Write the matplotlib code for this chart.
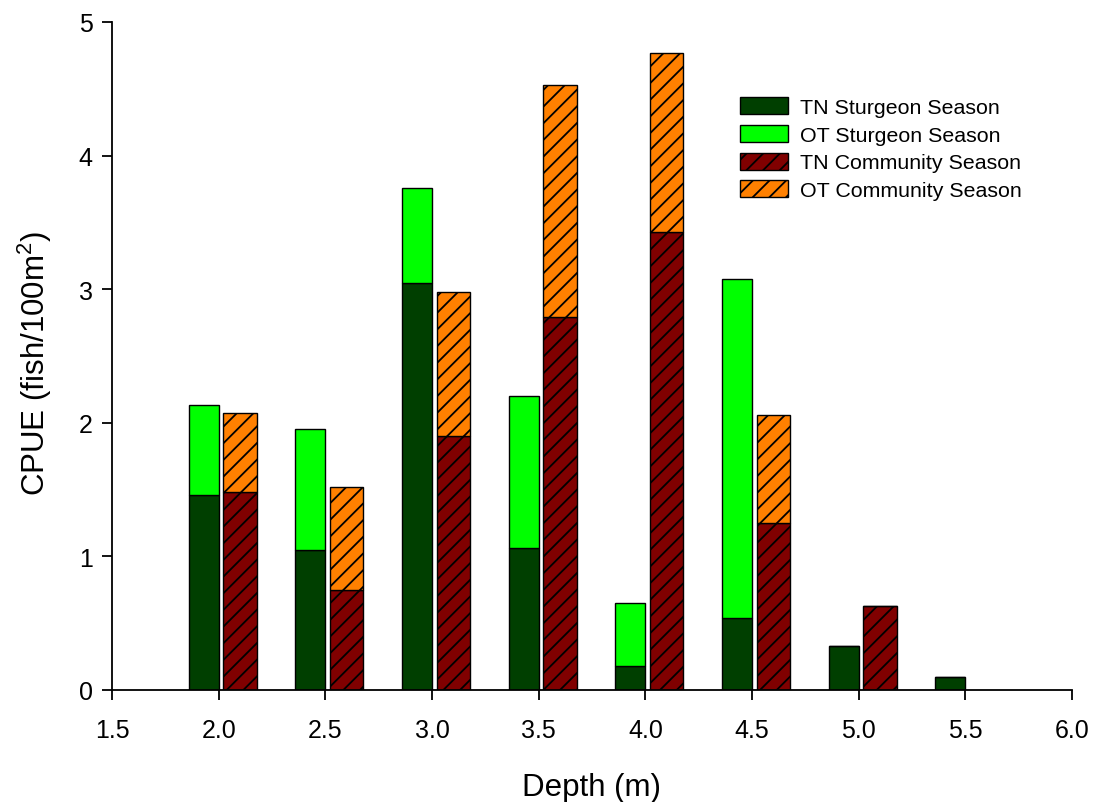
import matplotlib
matplotlib.use("Agg")
import matplotlib.pyplot as plt
import numpy as np

plt.rcParams['font.family'] = ['Liberation Sans', 'DejaVu Sans']
plt.rcParams['mathtext.fontset'] = 'custom'
plt.rcParams['mathtext.rm'] = 'Liberation Sans'
plt.rcParams['hatch.linewidth'] = 1.3

# sturgeon season (stacked: TN bottom, OT on top)
depth_sturgeon = [2.0, 2.5, 3.0, 3.5, 4.0, 4.5, 5.0, 5.5]
tn_sturgeon = [1.46, 1.05, 3.05, 1.06, 0.18, 0.54, 0.33, 0.10]
ot_sturgeon = [0.67, 0.90, 0.71, 1.14, 0.47, 2.54, 0.0, 0.0]

# community season
depth_community = [2.0, 2.5, 3.0, 3.5, 4.0, 4.5, 5.0]
tn_community = [1.48, 0.75, 1.90, 2.79, 3.43, 1.25, 0.63]
ot_community = [0.59, 0.77, 1.08, 1.74, 1.34, 0.81, 0.0]

x_ticks = [1.5, 2.0, 2.5, 3.0, 3.5, 4.0, 4.5, 5.0, 5.5, 6.0]

fig = plt.figure(figsize=(10.95, 8.03), dpi=100)
ax = fig.add_axes([112 / 1095, 1 - 691 / 803, 960 / 1095, 668 / 803])

xs = np.array(depth_sturgeon)
xc = np.array(depth_community)
ax.bar(xs - 0.07, tn_sturgeon, width=0.14, color='#003f00', edgecolor='black',
       linewidth=1, label='TN Sturgeon Season')
ax.bar(xs - 0.07, ot_sturgeon, width=0.14, bottom=tn_sturgeon, color='#00ff00',
       edgecolor='black', linewidth=1, label='OT Sturgeon Season')
ax.bar(xc + 0.10, tn_community, width=0.155, color='#800000', edgecolor='black',
       linewidth=1, hatch='//', label='TN Community Season')
ax.bar(xc + 0.10, ot_community, width=0.155, bottom=tn_community, color='#ff8000',
       edgecolor='black', linewidth=1, hatch='//', label='OT Community Season')

ax.set_xlim(1.5, 6.0)
ax.set_ylim(0, 5)
ax.set_xticks(x_ticks)
ax.set_xticklabels([f"{v:.1f}" for v in x_ticks])
ax.set_yticks(range(6))
ax.spines['top'].set_visible(False)
ax.spines['right'].set_visible(False)
ax.spines['left'].set_linewidth(1.3)
ax.spines['bottom'].set_linewidth(1.3)
ax.tick_params(direction='out', length=7.5, width=1.3, labelsize=18)
ax.tick_params(axis='x', pad=12.5)
ax.tick_params(axis='y', pad=6.5)

ax.set_xlabel('Depth (m)', fontsize=22.5)
ax.set_ylabel(r'CPUE (fish/100m$^{2}$)', fontsize=22.5)
ax.xaxis.set_label_coords(0.5, -0.123)
ax.yaxis.set_label_coords(-0.060, 0.49)

leg = ax.legend(loc='upper left', bbox_to_anchor=(0.654, 0.887), frameon=False,
                fontsize=15.4, handlelength=2.24, handleheight=0.84,
                labelspacing=0.36, handletextpad=0.56, borderpad=0,
                borderaxespad=0)

fig.savefig('out.png', dpi=100)
